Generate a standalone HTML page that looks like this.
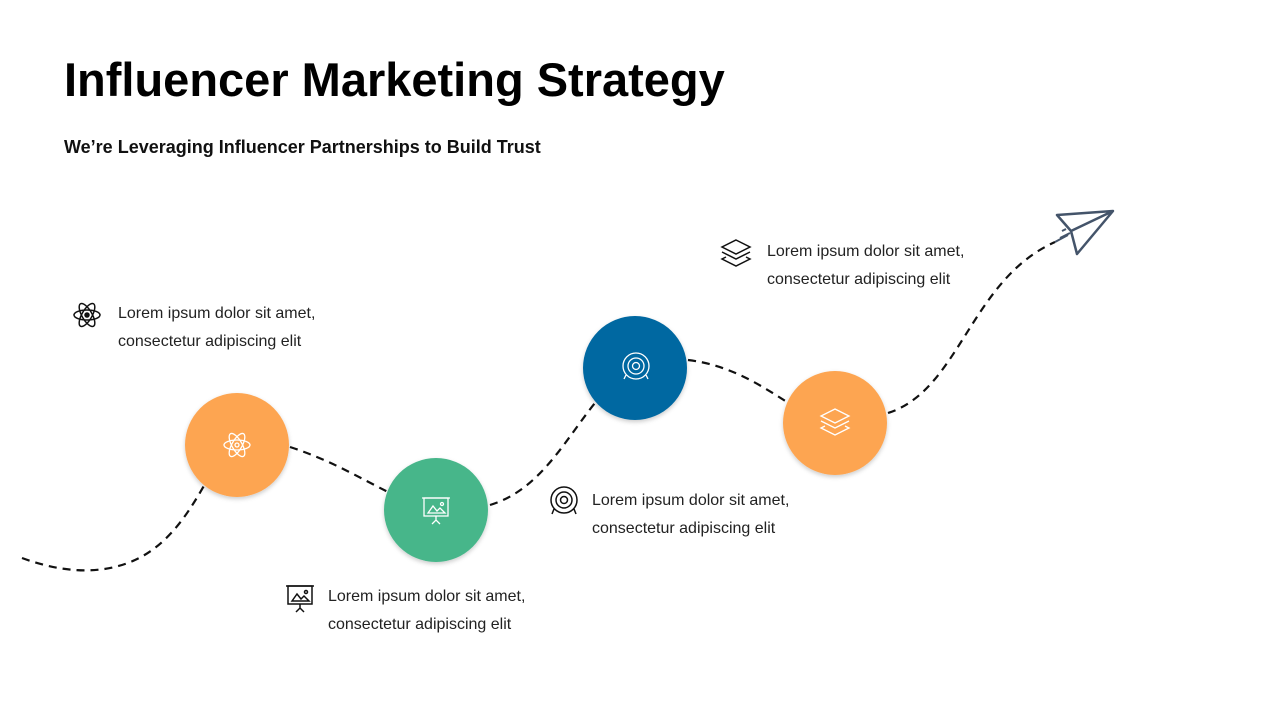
<!DOCTYPE html>
<html><head><meta charset="utf-8"><style>
body{margin:0;width:1280px;height:720px;background:#fff;font-family:"Liberation Sans",sans-serif;position:relative;overflow:hidden}
h1{position:absolute;left:64px;top:52px;margin:0;font-size:47px;font-weight:bold;color:#000;letter-spacing:0}
.sub{position:absolute;left:64px;top:137px;font-size:18px;font-weight:bold;color:#111}
.t{position:absolute;font-size:16px;line-height:28px;color:#222}
</style></head><body>
<h1>Influencer Marketing Strategy</h1>
<div class="sub">We’re Leveraging Influencer Partnerships to Build Trust</div>
<svg width="1280" height="720" style="position:absolute;left:0;top:0">
<defs><filter id="s" x="-20%" y="-20%" width="140%" height="150%"><feDropShadow dx="0" dy="2" stdDeviation="2" flood-opacity="0.2"/></filter></defs>
<g fill="none" stroke="#111" stroke-width="2.2" stroke-dasharray="8,6">
<path d="M22,558 C60,572 100,576 135,560 C170,544 190,510 205,484"/>
<path d="M290,447 C330,460 360,478 388,492"/>
<path d="M490,505 C540,490 565,440 595,403"/>
<path d="M688,360 C730,365 760,385 787,402"/>
<path d="M888,413 C960,390 970,280 1055,242"/>
</g>
<g fill="none" stroke="#44546a" stroke-width="2.5" stroke-linejoin="round">
<path d="M1057,215 L1113,211 L1077,254 L1071,231 Z M1071,231 L1113,211"/>
<path d="M1055,242 L1068,235 M1062,231 L1066,229 M1060,238 L1070,233" stroke-width="2"/>
</g>
<circle cx="237" cy="445" r="52" fill="#fda551" filter="url(#s)"/>
<circle cx="436" cy="510" r="52" fill="#47b68a" filter="url(#s)"/>
<circle cx="635" cy="368" r="52" fill="#0067a1" filter="url(#s)"/>
<circle cx="835" cy="423" r="52" fill="#fda551" filter="url(#s)"/>
<g fill="none" stroke="#fff" stroke-width="1.3" transform="translate(237,445)">
<ellipse rx="13" ry="5"/><ellipse rx="13" ry="5" transform="rotate(60)"/><ellipse rx="13" ry="5" transform="rotate(-60)"/><circle r="2"/></g>
<g fill="none" stroke="#111" stroke-width="1.5" transform="translate(87,315)">
<ellipse rx="13" ry="5"/><ellipse rx="13" ry="5" transform="rotate(60)"/><ellipse rx="13" ry="5" transform="rotate(-60)"/><circle r="2" fill="#111"/></g>
<g fill="none" stroke="#fff" stroke-width="1.3" transform="translate(436,508)">
<rect x="-12" y="-10" width="24" height="18"/><path d="M-14,-10 H14 M-8,5 L-3,-2 L1,3 L4,0 L9,5 Z M0,8 V12 M-4,16 L0,12 L4,16"/><circle cx="6" cy="-4" r="1.5"/></g>
<g fill="none" stroke="#111" stroke-width="1.5" transform="translate(300,596)">
<rect x="-12" y="-10" width="24" height="18"/><path d="M-14,-10 H14 M-8,5 L-3,-2 L1,3 L4,0 L9,5 Z M0,8 V12 M-4,16 L0,12 L4,16"/><circle cx="6" cy="-4" r="1.5"/></g>
<g fill="none" stroke="#fff" stroke-width="1.3" transform="translate(636,366)">
<circle r="13"/><circle r="8"/><circle r="3.5"/><path d="M-10,9 L-12,13 M10,9 L12,13"/></g>
<g fill="none" stroke="#111" stroke-width="1.5" transform="translate(564,500)">
<circle r="13"/><circle r="8"/><circle r="3.5"/><path d="M-10,9 L-12,14 M10,9 L12,14"/></g>
<g fill="none" stroke="#fff" stroke-width="1.3" transform="translate(835,423)">
<path d="M0,-14 L14,-7 L0,0 L-14,-7 Z M-14,-2 L0,5 L14,-2 M-10,3 L-14,5 L0,12 L14,5 L10,3"/></g>
<g fill="none" stroke="#111" stroke-width="1.5" transform="translate(736,254)">
<path d="M0,-14 L14,-7 L0,0 L-14,-7 Z M-14,-2 L0,5 L14,-2 M-10,3 L-14,5 L0,12 L14,5 L10,3"/></g>
</svg>
<div class="t" style="left:118px;top:300px">Lorem ipsum dolor sit amet,<br>consectetur adipiscing elit</div>
<div class="t" style="left:328px;top:583px">Lorem ipsum dolor sit amet,<br>consectetur adipiscing elit</div>
<div class="t" style="left:592px;top:487px">Lorem ipsum dolor sit amet,<br>consectetur adipiscing elit</div>
<div class="t" style="left:767px;top:238px">Lorem ipsum dolor sit amet,<br>consectetur adipiscing elit</div>
</body></html>
